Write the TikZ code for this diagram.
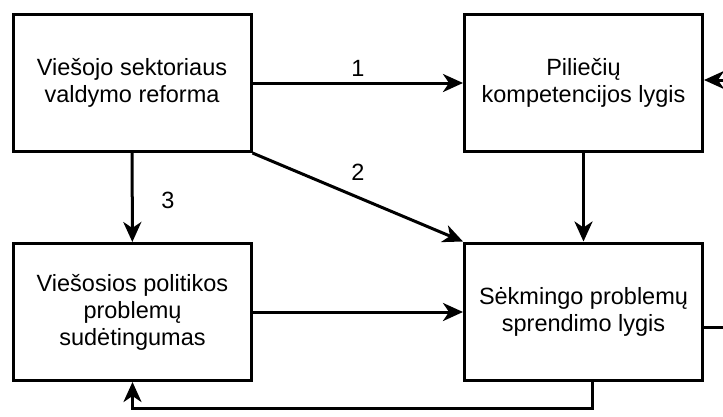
\documentclass[tikz,border=0pt]{standalone}
\usepackage{fontspec}
\setmainfont{Liberation Sans}
\usetikzlibrary{arrows.meta,positioning,calc}

\begin{document}
\begin{tikzpicture}[x=1pt, y=-1pt,
          every node/.style={font=\fontsize{23.5}{27}\selectfont},
          box/.style={rectangle, draw, line width=3pt, minimum width=238pt, minimum height=137pt, align=center},
          arr/.style={-{Stealth[length=20pt, width=18pt, inset=6pt]}, line width=3pt},
          ln/.style={line width=3pt},
          num/.style={inner sep=1pt}]
        \useasboundingbox (0,0) rectangle (723,416);
        % the four factors
        \node[box] (reform) at (132,83) {Viešojo sektoriaus\\valdymo reforma};
        \node[box] (kompet) at (583.5,83) {Piliečių\\kompetencijos lygis};
        \node[box] (sudet) at (132.5,312) {Viešosios politikos\\problemų\\sudėtingumas};
        \node[box] (sekme) at (583.5,311.5) {Sėkmingo problemų\\sprendimo lygis};
        % links
        \draw[arr] (reform) -- (kompet);
        \draw[arr] (reform.south east) -- (sekme.north west);
        \draw[arr] (reform) -- (sudet);
        \draw[arr] (kompet) -- (sekme);
        \draw[arr] (sudet.east) -- (sudet.east -| sekme.west);
        \draw[arr] ([xshift=9pt]sekme.south) -- ++(0,27) -| (sudet.south);
        % ends leaving the picture
        \coordinate (inK) at (723,80);
        \coordinate (outS) at (723,327);
        \draw[arr] (inK) -- (inK -| kompet.east);
        \draw[ln] (outS -| sekme.east) -- (outS);
        % path numbers
        \node[num] (n1) at (358,68) {1};
        \node[num] (n2) at (358,172) {2};
        \node[num] (n3) at (168,200) {3};
      \end{tikzpicture}
\end{document}
